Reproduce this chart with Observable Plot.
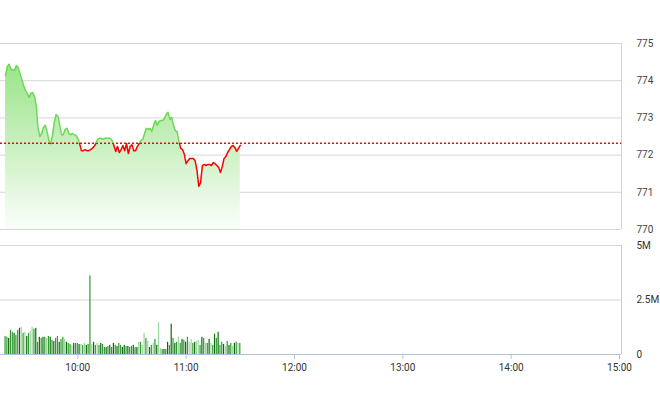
<!DOCTYPE html>
<html><head><meta charset="utf-8">
<script src="https://cdn.jsdelivr.net/npm/d3@7"></script>
<script src="https://cdn.jsdelivr.net/npm/@observablehq/plot@0.6"></script>
<style>
body{margin:0;background:#fff;}
#chart svg{display:block;}
</style>
</head><body><div id="chart"></div>
<script>
// minute-by-minute session data, first point at 9:20
const startMinute = 9 * 60 + 20;
const priceValues = [
  774.14,774.38,774.44,774.30,774.30,774.27,774.41,774.35,774.19,774.03,
  773.87,773.74,773.66,773.55,773.66,773.68,773.58,773.33,772.72,772.50,
  772.58,772.74,772.80,772.63,772.39,772.31,772.53,772.88,773.09,773.04,
  772.80,772.55,772.55,772.69,772.72,772.58,772.55,772.58,772.55,772.53,
  772.45,772.31,772.12,772.12,772.15,772.12,772.12,772.15,772.18,772.23,
  772.31,772.42,772.45,772.45,772.42,772.45,772.45,772.45,772.45,772.39,
  772.26,772.10,772.23,772.07,772.15,772.26,772.12,772.31,772.04,772.23,
  772.28,772.12,772.12,772.23,772.31,772.39,772.42,772.58,772.72,772.69,
  772.72,772.63,772.80,772.93,772.80,772.90,772.93,772.93,772.98,773.09,
  773.15,772.96,773.01,772.80,772.66,772.63,772.37,772.18,772.15,772.02,
  771.77,771.85,771.91,771.91,771.91,771.85,771.59,771.16,771.26,771.72,
  771.75,771.72,771.75,771.75,771.72,771.80,771.77,771.72,771.67,771.53,
  771.69,771.91,771.96,772.07,772.15,772.23,772.26,772.20,772.10,772.18,772.26
];
// volume in millions
const volumeValues = [
  0.83,0.79,0.74,1.11,1.02,0.97,0.88,1.11,1.20,1.25,
  0.97,1.02,0.83,0.97,1.06,1.25,1.16,1.20,0.56,0.79,
  0.74,0.79,0.79,0.74,0.83,0.79,0.65,0.60,0.74,0.83,
  0.56,0.69,0.79,0.69,0.56,0.51,0.46,0.42,0.51,0.51,
  0.51,0.46,0.46,0.42,0.51,0.42,0.46,3.61,0.46,0.56,
  0.42,0.51,0.42,0.51,0.46,0.32,0.32,0.37,0.42,0.32,
  0.51,0.42,0.37,0.51,0.42,0.32,0.42,0.37,0.37,0.32,
  0.37,0.42,0.32,0.32,0.56,0.56,0.42,0.97,0.74,0.60,
  0.32,0.42,0.51,0.69,0.42,1.48,0.28,0.23,0.23,0.23,
  0.56,0.42,1.39,0.74,0.51,0.56,0.79,0.51,0.69,0.65,
  0.56,0.79,0.56,0.69,0.51,0.56,0.60,0.65,0.42,0.79,
  0.74,0.51,0.51,0.69,0.51,0.42,0.93,0.74,1.02,0.42,
  0.56,0.46,0.37,0.60,0.42,0.51,0.37,0.51,0.56,0.51,0.51
];
const volumeShades = [
  "m","m","d","m","m","d","m","m","d","l",
  "m","l","d","m","l","l","m","d","m","d",
  "m","d","m","l","m","d","m","d","m","m",
  "d","m","m","l","d","m","m","l","d","m",
  "m","d","l","m","l","d","m","m","l","d",
  "m","l","m","d","m","m","d","m","d","m",
  "d","m","d","m","m","d","d","m","d","m",
  "m","d","m","d","l","m","l","l","m","l",
  "d","m","l","m","d","l","l","m","d","m",
  "d","m","d","m","d","m","l","m","d","m",
  "d","m","l","l","m","d","l","l","m","d",
  "m","l","m","d","l","m","d","m","d","m",
  "m","d","l","m","d","m","l","d","m","l","m"
];
const referencePrice = 772.32;
const priceTicks = [770, 771, 772, 773, 774, 775];
const volumeTicks = [0, 2.5, 5];
const volumeTickLabels = ["0", "2.5M", "5M"];
const hourTicks = [10, 11, 12, 13, 14, 15];

const shadeColors = {d: "#0c6a0c", m: "#2f9b2f", l: "#9fd69f"};
const xDomain = [557.2, 901.1];
const W = 660, MR = 39;

const priceData = priceValues.map((v, i) => ({t: startMinute + i, v}));
const volumeData = volumeValues.map((v, i) => ({t: startMinute + i, v, c: shadeColors[volumeShades[i]]}));

const style = {fontFamily: "Roboto, sans-serif", fontSize: "10px", color: "#444", background: "#fff", overflow: "visible"};

const plot1 = Plot.plot({
  width: W, height: 240, marginTop: 43, marginBottom: 11, marginLeft: 0, marginRight: MR,
  style,
  x: {domain: xDomain, axis: null},
  y: {domain: [770, 775], axis: "right", ticks: priceTicks, tickSize: 0, tickPadding: 15, label: null, tickFormat: d => String(d)},
  marks: [
    Plot.ruleY(priceTicks, {stroke: "#d6d6d6", strokeWidth: 1}),
    Plot.ruleX([xDomain[1]], {y1: 770, y2: 775, stroke: "#cdd5df"}),
    Plot.areaY(priceData, {x: "t", y1: 770, y2: "v", fill: "url(#areaGrad)"}),
    Plot.ruleY([referencePrice], {stroke: "#ff0000", strokeWidth: 1.5, strokeDasharray: "2,2"}),
    Plot.line(priceData, {x: "t", y: "v", stroke: "url(#priceStroke)", strokeWidth: 1.5})
  ]
});

const ySc = plot1.scale("y");
const yTop = ySc.apply(775), yBot = ySc.apply(770), yRef = ySc.apply(referencePrice);
const defs = document.createElementNS("http://www.w3.org/2000/svg", "defs");
defs.innerHTML = `
<linearGradient id="areaGrad" gradientUnits="userSpaceOnUse" x1="0" y1="${yTop}" x2="0" y2="${yBot}">
  <stop offset="0" stop-color="#8ee27b"/>
  <stop offset="0.55" stop-color="#c9f0c0"/>
  <stop offset="1" stop-color="#fbfefb"/>
</linearGradient>
<linearGradient id="priceStroke" gradientUnits="userSpaceOnUse" x1="0" y1="0" x2="0" y2="240">
  <stop offset="${yRef / 240}" stop-color="#6bd955"/>
  <stop offset="${yRef / 240}" stop-color="#ff0000"/>
</linearGradient>`;
plot1.insertBefore(defs, plot1.firstChild);

const plot2 = Plot.plot({
  width: W, height: 172, marginTop: 5, marginBottom: 58, marginLeft: 0, marginRight: MR,
  style: {...style, color: "#333"},
  x: {domain: xDomain, ticks: hourTicks.map(h => h * 60), tickFormat: m => `${m / 60}:00`, tickSize: 0, tickPadding: 9, label: null},
  y: {domain: [0, 5], axis: "right", ticks: volumeTicks, tickSize: 0, tickPadding: 15, label: null,
      tickFormat: d => volumeTickLabels[volumeTicks.indexOf(d)]},
  color: {type: "identity"},
  marks: [
    Plot.ruleY([2.5, 5], {stroke: "#d6d6d6", strokeWidth: 1}),
    Plot.ruleX([xDomain[1]], {y1: 0, y2: 5, stroke: "#c3cfe0"}),
    Plot.rectY(volumeData, {x1: d => d.t - 0.33, x2: d => d.t + 0.33, y: "v", fill: "c"}),
    Plot.ruleY([0], {stroke: "#b3c1d6", strokeWidth: 1}),
    Plot.ruleX(hourTicks.map(h => h * 60), {y1: 0, y2: -0.23, stroke: "#b3c1d6"})
  ]
});

document.getElementById("chart").append(plot1, plot2);
</script>
</body></html>
